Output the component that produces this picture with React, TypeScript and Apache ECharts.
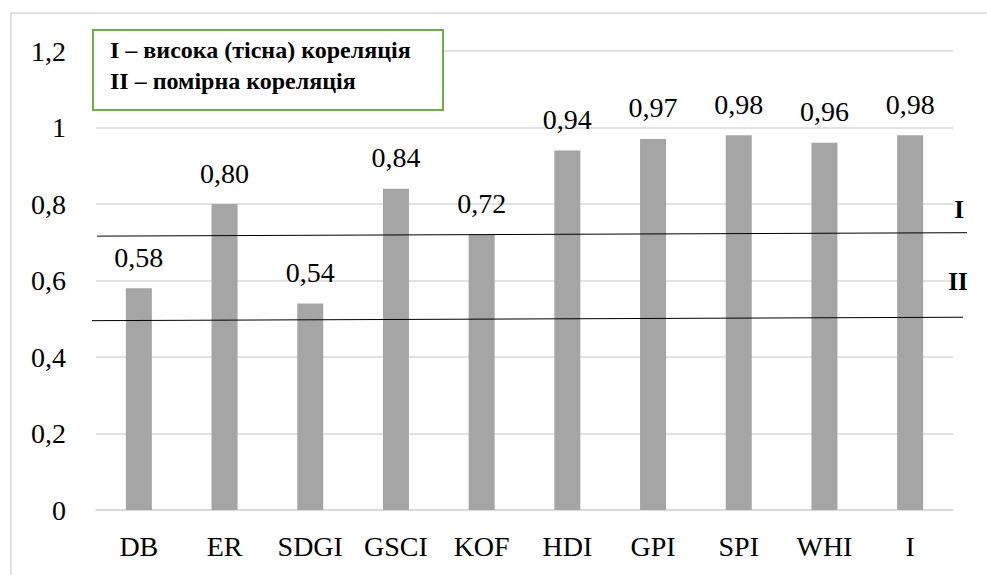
import React, { useEffect, useRef } from "react";
import * as echarts from "echarts";

const categories = ["DB", "ER", "SDGI", "GSCI", "KOF", "HDI", "GPI", "SPI", "WHI", "I"];
const values = [0.58, 0.8, 0.54, 0.84, 0.72, 0.94, 0.97, 0.98, 0.96, 0.98];
const yTicks = { min: 0, max: 1.2, interval: 0.2 };
// threshold lines: [left value, right value]
const thresholdHigh = [0.716, 0.725];
const thresholdModerate = [0.495, 0.504];
const legendLines = ["I – висока (тісна) кореляція", "II – помірна кореляція"];
const zoneLabels = ["I", "II"];

const SERIF = "Liberation Serif";

export default function App() {
  const ref = useRef<HTMLDivElement>(null);
  useEffect(() => {
    if (!ref.current) return;
    const chart = echarts.init(ref.current, undefined, { renderer: "svg" });
    const fmt = (v: number) => String(Number(v.toFixed(1))).replace(".", ",");
    chart.setOption({
      animation: false,
      grid: { left: 96, right: 34, top: 51, bottom: 65, containLabel: false },
      xAxis: {
        type: "category",
        data: categories,
        axisLine: { show: true, lineStyle: { color: "#d9d9d9", width: 1.5 } },
        axisTick: { show: false },
        axisLabel: { color: "#000", fontFamily: SERIF, fontSize: 28, margin: 22 },
      },
      yAxis: {
        type: "value",
        min: yTicks.min,
        max: yTicks.max,
        interval: yTicks.interval,
        axisLine: { show: false },
        axisTick: { show: false },
        splitLine: { lineStyle: { color: "#d9d9d9", width: 1.5 } },
        axisLabel: {
          color: "#000",
          fontFamily: SERIF,
          fontSize: 28,
          margin: 30,
          formatter: (v: number) => fmt(v),
        },
      },
      series: [
        {
          type: "bar",
          data: values,
          barWidth: 26,
          itemStyle: { color: "#a5a5a5" },
          label: {
            show: true,
            position: "top",
            distance: 17,
            color: "#000",
            fontFamily: SERIF,
            fontSize: 28,
            formatter: (p: any) => p.value.toFixed(2).replace(".", ","),
          },
          markLine: {
            silent: true,
            symbol: ["none", "none"],
            label: { show: false },
            lineStyle: { color: "#000", width: 1, type: "solid" },
            data: [
              [
                { coord: [0, thresholdHigh[0]], x: 97 },
                { coord: [categories.length - 1, thresholdHigh[1]], x: 967 },
              ],
              [
                { coord: [0, thresholdModerate[0]], x: 92 },
                { coord: [categories.length - 1, thresholdModerate[1]], x: 963 },
              ],
            ],
          },
        },
      ],
      graphic: [
        {
          type: "rect",
          shape: { x: 11, y: 13, width: 1000, height: 600 },
          style: { fill: "none", stroke: "#d9d9d9", lineWidth: 1.5 },
          silent: true,
        },
        {
          type: "rect",
          shape: { x: 93, y: 30, width: 350, height: 80 },
          style: { fill: "#fff", stroke: "#70ad47", lineWidth: 2 },
          z: 10,
        },
        {
          type: "text",
          x: 110,
          y: 50,
          z: 11,
          style: {
            text: legendLines[0],
            fontFamily: SERIF,
            fontWeight: "bold",
            fontSize: 24,
            fill: "#000",
            verticalAlign: "middle",
          },
        },
        {
          type: "text",
          x: 110,
          y: 81,
          z: 11,
          style: {
            text: legendLines[1],
            fontFamily: SERIF,
            fontWeight: "bold",
            fontSize: 24,
            fill: "#000",
            verticalAlign: "middle",
          },
        },
        {
          type: "text",
          x: 959,
          y: 209,
          z: 11,
          style: {
            text: zoneLabels[0],
            fontFamily: SERIF,
            fontWeight: "bold",
            fontSize: 25,
            fill: "#000",
            align: "center",
            verticalAlign: "middle",
          },
        },
        {
          type: "text",
          x: 958,
          y: 281,
          z: 11,
          style: {
            text: zoneLabels[1],
            fontFamily: SERIF,
            fontWeight: "bold",
            fontSize: 25,
            fill: "#000",
            align: "center",
            verticalAlign: "middle",
          },
        },
      ],
    });
    return () => chart.dispose();
  }, []);
  return (
    <div
      ref={ref}
      style={{ position: "fixed", left: 0, top: 0, width: 987, height: 575, background: "#fff" }}
    />
  );
}
